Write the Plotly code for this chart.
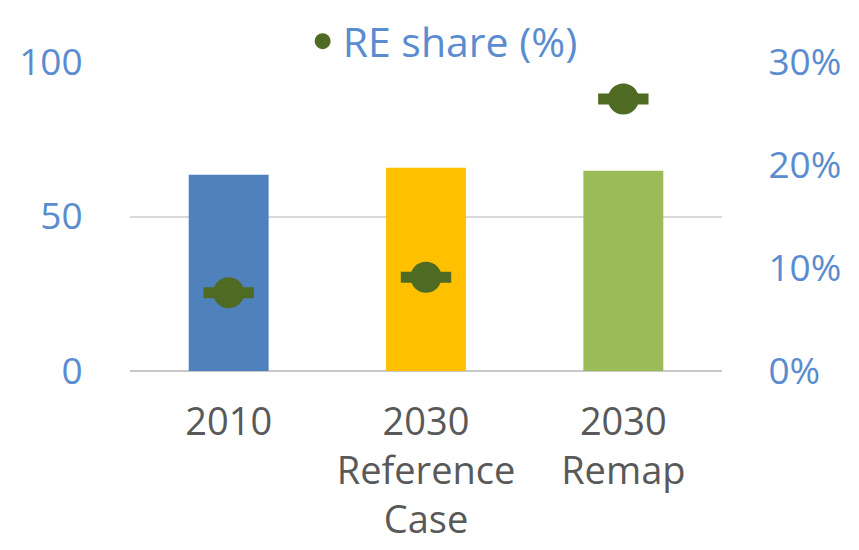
import plotly.graph_objects as go

categories = ["2010", "2030<br>Reference<br>Case", "2030<br>Remap"]
bar_values = [63.5, 65.8, 64.8]
bar_colors = ["#4f81bd", "#ffc000", "#9bbb59"]
re_share = [0.076, 0.091, 0.264]
left_ticks = [0, 50, 100]
right_ticks = [0, 0.1, 0.2, 0.3]

FONT = "Open Sans"
BLUE_TXT = "#5a8ccf"
GREEN = "#4f6a22"

fig = go.Figure()
fig.add_trace(go.Bar(
    x=categories, y=bar_values, marker=dict(color=bar_colors, line=dict(width=0)),
    width=0.405, showlegend=False, hoverinfo="skip"))
# horizontal dash part of marker
fig.add_trace(go.Scatter(
    x=categories, y=re_share, yaxis="y2", mode="markers",
    marker=dict(symbol="line-ew", size=36, line=dict(color=GREEN, width=11)),
    showlegend=False, hoverinfo="skip"))
fig.add_trace(go.Scatter(
    x=categories, y=re_share, yaxis="y2", mode="markers", name="RE share (%)",
    marker=dict(symbol="circle", size=31, color=GREEN, line=dict(width=0))))

fig.update_layout(
    width=859, height=550,
    margin=dict(l=122, r=145, t=54, b=187, autoexpand=False),
    plot_bgcolor="white", paper_bgcolor="white",
    font=dict(family=FONT, size=35, color=BLUE_TXT),
    showlegend=True,
    legend=dict(orientation="h", xref="container", x=0.343, xanchor="left",
                yref="container", y=1.0, yanchor="top",
                font=dict(size=41, color=BLUE_TXT), bgcolor="rgba(0,0,0,0)",
                itemsizing="trace"),
    xaxis=dict(type="category", showgrid=False, showline=False, zeroline=False,
               automargin=False,
               tickfont=dict(size=38, color="#595959"),
               ticks="outside", ticklen=17, tickcolor="rgba(0,0,0,0)"),
    yaxis=dict(range=[0, 100], tickvals=left_ticks, showgrid=True, gridcolor="#d9d9d9",
               gridwidth=1.5, zeroline=True, zerolinecolor="#c8c8c8", zerolinewidth=2,
               showline=False, ticks="outside", ticklen=39, tickcolor="rgba(0,0,0,0)",
               automargin=False,
               tickfont=dict(size=37, color=BLUE_TXT)),
    yaxis2=dict(range=[0, 0.3], tickvals=right_ticks, tickformat=".0%", overlaying="y",
                side="right", showgrid=False, zeroline=False, showline=False,
                ticks="outside", ticklen=38, tickcolor="rgba(0,0,0,0)",
                automargin=False,
                tickfont=dict(size=37, color=BLUE_TXT)),
)

fig.write_html("out.html")
